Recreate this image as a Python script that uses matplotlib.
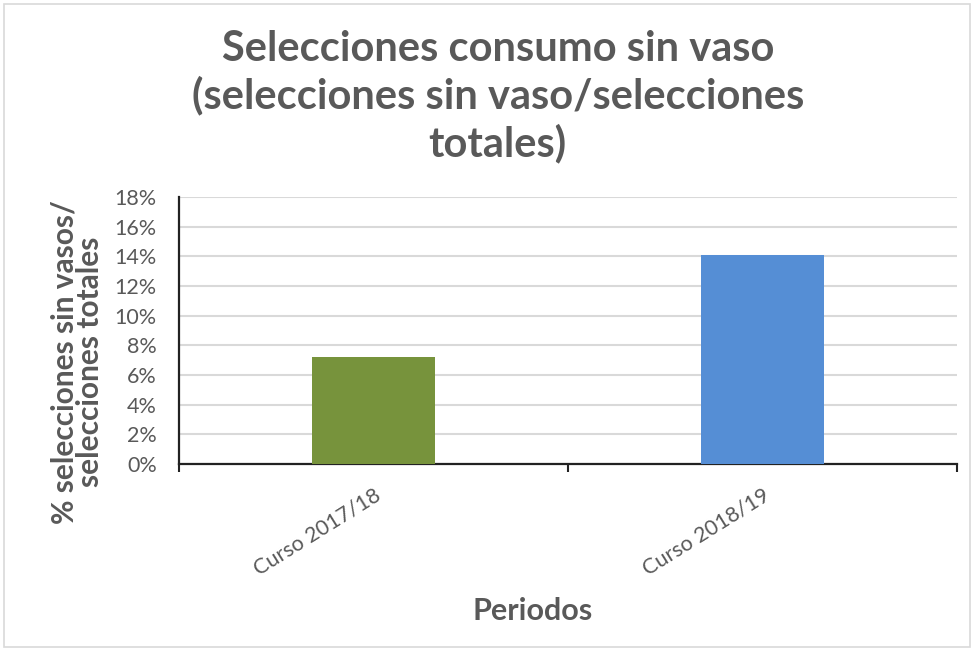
import matplotlib
matplotlib.use("Agg")
import matplotlib.pyplot as plt
from matplotlib.ticker import FuncFormatter, MultipleLocator, FixedLocator
from matplotlib.patches import Rectangle
import matplotlib.transforms as mtransforms

categories = ["Curso 2017/18", "Curso 2018/19"]
values = [7.2, 14.1]
colors = ["#77933C", "#558ED5"]
title = "Selecciones consumo sin vaso\n(selecciones sin vaso/selecciones\ntotales)"
ylabel = "% selecciones sin vasos/\nselecciones totales"
xlabel = "Periodos"

plt.rcParams['font.family'] = ['Lato', 'DejaVu Sans']
txt = "#595959"

fig = plt.figure(figsize=(9.74, 6.51), dpi=100)
ax = fig.add_axes([179/974, 1-464/651, (957-179)/974, (464-197)/651])

x = list(range(len(categories)))
ax.bar(x, values, width=0.315, color=colors, zorder=3)
ax.set_xlim(-0.5, len(categories) - 0.5)
ax.set_ylim(0, 18)
ax.yaxis.set_major_locator(MultipleLocator(2))
ax.yaxis.set_major_formatter(FuncFormatter(lambda v, p: f"{v:.0f}%"))
ax.grid(axis='y', color="#d9d9d9", linewidth=1.5, zorder=0)
ax.set_axisbelow(True)

ax.set_xticks(x)
ax.set_xticklabels(categories, rotation=32, ha='right', va='top', rotation_mode='anchor',
                   fontsize=15.5, color=txt)
offset = mtransforms.ScaledTranslation(5/100, 0, fig.dpi_scale_trans)
for lab in ax.get_xticklabels():
    lab.set_transform(lab.get_transform() + offset)
ax.xaxis.set_minor_locator(FixedLocator([-0.5, 0.5, 1.5]))
ax.tick_params(axis='x', which='major', length=0, pad=15)
ax.tick_params(axis='x', which='minor', length=6, width=1.5, color="#222222")
ax.tick_params(axis='y', length=0, labelsize=15.5, labelcolor=txt, pad=16)

for s in ['top', 'right']:
    ax.spines[s].set_visible(False)
for s in ['left', 'bottom']:
    ax.spines[s].set_color("#222222")
    ax.spines[s].set_linewidth(1.6)

fig.text(77/974, 1-362/651, ylabel, rotation=90, ha='center', va='center',
         multialignment='center', fontsize=21.5, fontweight='bold', color=txt,
         linespacing=0.9)
fig.text(533/974, 1-611/651, xlabel, ha='center', va='center', fontsize=22,
         fontweight='bold', color=txt)

fig.text(0.511, 1-30/651, title, ha='center', va='top', fontsize=30, fontweight='bold',
         color=txt, linespacing=1.24)

fig.patches.append(Rectangle((0.004, 0.006), 0.992, 0.988, transform=fig.transFigure,
                             fill=False, edgecolor="#d9d9d9", linewidth=1.2))

fig.savefig("out.png", dpi=100)
